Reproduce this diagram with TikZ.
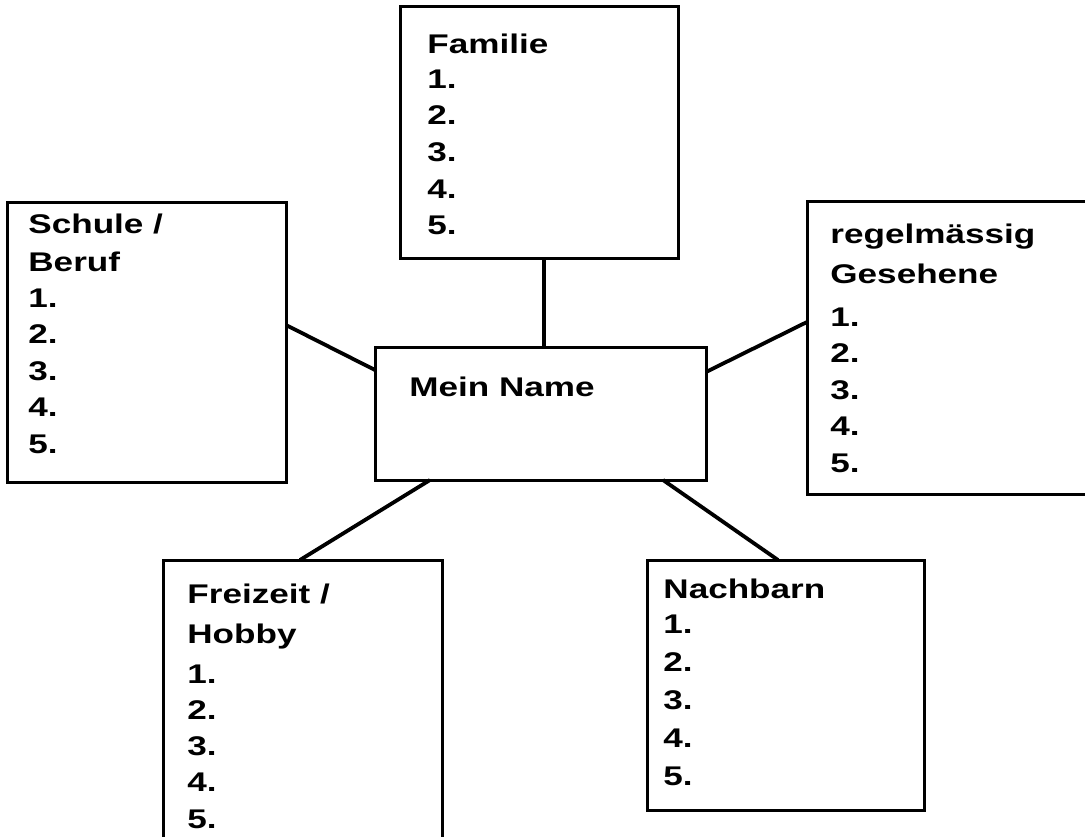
\documentclass[tikz,border=0pt]{standalone}
\usepackage{fontspec}
\setmainfont[FakeStretch=1.3]{Liberation Sans}

\begin{document}
\begin{tikzpicture}[x=0.5pt,y=-0.5pt,
  box/.style={draw,line width=1.5pt,anchor=north west,inner sep=0pt,outer sep=0pt},
  txt/.style={anchor=base west,inner sep=0pt,font=\bfseries\fontsize{13.5}{16}\selectfont},
  conn/.style={line width=1.9pt}]
\useasboundingbox (0,0) rectangle (1085,836);
\clip (0,0) rectangle (1085,836);
% boxes
\node[box,minimum width=139pt,minimum height=126pt] (fam) at (400,6) {};
\node[box,minimum width=139.5pt,minimum height=140pt] (schule) at (7,202) {};
\node[box,minimum width=140pt,minimum height=146.5pt] (regel) at (807,201) {};
\node[box,minimum width=165.5pt,minimum height=66.5pt] (name) at (375,347) {};
\node[box,minimum width=139.5pt,minimum height=150pt] (frei) at (163,560) {};
\node[box,minimum width=138.5pt,minimum height=125pt] (nach) at (647,560) {};
% texts
\node[txt] (famT) at (427,53) {Familie};
\foreach \i in {1,...,5} \node[txt] (fam\i) at (427,{88+(\i-1)*36.7}) {\i.};
\node[txt] (schuleT) at (28,233) {Schule /};
\node[txt] (schuleU) at (28,271) {Beruf};
\foreach \i in {1,...,5} \node[txt] (schule\i) at (28,{307+(\i-1)*36.5}) {\i.};
\node[txt] (regelT) at (830,243) {regelmässig};
\node[txt] (regelU) at (830,283) {Gesehene};
\foreach \i in {1,...,5} \node[txt] (regel\i) at (830,{326+(\i-1)*36.6}) {\i.};
\node[txt] (nameT) at (409,396) {Mein Name};
\node[txt] (freiT) at (187,603) {Freizeit /};
\node[txt] (freiU) at (187,643) {Hobby};
\foreach \i in {1,...,5} \node[txt] (frei\i) at (187,{683+(\i-1)*36.3}) {\i.};
\node[txt] (nachT) at (663,598) {Nachbarn};
\foreach \i in {1,...,5} \node[txt] (nach\i) at (663,{633+(\i-1)*38}) {\i.};
% connectors
\draw[conn] ([xshift=2.5pt]fam.south) -- ([xshift=2.5pt]fam.south |- name.north);
\draw[conn] ([yshift=8.5pt]schule.east) -- ([yshift=-11.5pt]name.north west);
\draw[conn] ([yshift=-12.5pt]name.north east) -- ([yshift=12.75pt]regel.west);
\draw[conn] ([xshift=27.5pt]name.south west) -- ([xshift=-1.25pt]frei.north);
\draw[conn] ([xshift=-21.5pt]name.south east) -- ([xshift=-3.75pt]nach.north);
\end{tikzpicture}
\end{document}
